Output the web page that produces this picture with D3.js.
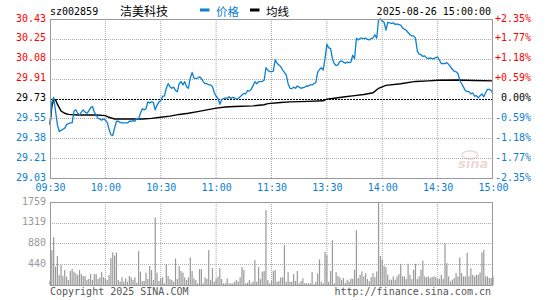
<!DOCTYPE html>
<html><head><meta charset="utf-8">
<script src="https://cdn.jsdelivr.net/npm/d3@7"></script>
<style>
body{margin:0;background:#fff;}
svg{display:block;}
</style></head><body>
<svg id="c" width="545" height="300"></svg>
<script>
const stockCode = "sz002859";
const stockName = "洁美科技";
const dateLabel = "2025-08-26 15:00:00";
const legendNames = ["价格", "均线"];
const prevClose = 29.73;
const pctValues = [2.35, 1.77, 1.18, 0.59, 0, -0.59, -1.18, -1.77, -2.35];
const priceTicks = ["30.43", "30.25", "30.08", "29.91", "29.73", "29.55", "29.38", "29.21", "29.03"];
const pctTicks = ["+2.35%", "+1.77%", "+1.18%", "+0.59%", "0.00%", "-0.59%", "-1.18%", "-1.77%", "-2.35%"];
const timeMinutes = [0, 30, 60, 90, 120, 150, 180, 210, 240];
const timeLabels = ["09:30", "10:00", "10:30", "11:00", "11:30", "13:30", "14:00", "14:30", "15:00"];
const volTicks = [440, 880, 1319, 1759];
const copyrightLeft = "Copyright 2025 SINA.COM";
const copyrightRight = "http://finance.sina.com.cn";

// per-minute price (09:30 .. 15:00)
const prices = [
29.50,29.70,29.74,29.62,29.50,29.44,29.45,29.46,29.47,29.50,
29.51,29.515,29.515,29.62,29.63,29.60,29.585,29.61,29.63,29.61,
29.60,29.62,29.65,29.66,29.61,29.585,29.556,29.55,29.54,29.55,
29.54,29.52,29.46,29.41,29.405,29.47,29.53,29.53,29.52,29.515,
29.515,29.515,29.515,29.53,29.53,29.535,29.53,29.556,29.55,29.60,
29.64,29.63,29.64,29.70,29.69,29.70,29.695,29.63,29.67,29.70,
29.71,29.75,29.75,29.82,29.86,29.834,29.82,29.83,29.80,29.79,
29.86,29.878,29.85,29.878,29.834,29.82,29.91,29.96,29.91,29.907,
29.91,29.92,29.907,29.878,29.86,29.86,29.85,29.85,29.834,29.78,
29.75,29.73,29.68,29.72,29.73,29.735,29.73,29.746,29.73,29.74,
29.735,29.725,29.73,29.746,29.76,29.775,29.77,29.80,29.795,29.81,
29.843,29.878,29.86,29.878,29.878,29.88,29.89,30.00,29.98,29.966,
29.966,29.97,30.07,30.04,30.025,30.01,29.98,29.96,29.935,29.86,
29.82,29.816,29.83,29.82,29.84,29.83,29.82,29.825,29.83,29.84,
29.84,29.85,29.85,29.86,29.87,29.96,29.985,30.00,29.98,30.08,
30.207,30.175,30.17,30.08,30.037,30.02,30.025,30.055,30.06,30.05,
30.04,30.05,30.045,30.05,30.11,30.08,30.26,30.245,30.26,30.26,
30.257,30.26,30.25,30.245,30.257,30.263,30.29,30.26,30.42,30.43,
30.41,30.40,30.33,30.40,30.395,30.39,30.395,30.38,30.385,30.38,
30.375,30.35,30.34,30.33,30.31,30.29,30.28,30.28,30.26,30.146,
30.12,30.115,30.10,30.105,30.087,30.08,30.087,30.08,30.08,30.09,
30.095,30.066,30.037,30.037,30.037,30.045,30.03,30.007,29.987,29.97,
29.965,29.95,29.89,29.86,29.83,29.80,29.79,29.79,29.77,29.78,
29.75,29.755,29.735,29.755,29.77,29.745,29.78,29.81,29.81,29.80,
29.77
];

// average price line, read at these minutes
const avgMinutes = [0,1,2,3,4,5,6,8,10,15,20,25,30,32,35,40,50,55,60,65,70,75,80,85,90,95,100,110,116,118,125,130,140,148,150,155,160,165,170,175,178,182,190,198,205,210,220,230,240];
const avgValues  = [29.50,29.66,29.72,29.72,29.68,29.65,29.62,29.60,29.59,29.585,29.585,29.585,29.58,29.565,29.55,29.55,29.55,29.555,29.565,29.575,29.59,29.60,29.615,29.63,29.645,29.655,29.66,29.665,29.675,29.685,29.695,29.70,29.705,29.71,29.725,29.735,29.745,29.755,29.765,29.78,29.82,29.845,29.86,29.88,29.885,29.89,29.892,29.888,29.885];

// per-minute volume
const volumes = [
84,739,1013,387,612,211,422,190,317,176,
105,295,338,281,246,211,317,232,190,190,
105,127,232,105,232,232,127,162,274,162,
141,105,211,570,690,626,690,105,70,162,
70,141,70,190,162,105,162,49,718,281,
84,84,260,127,401,317,105,1428,260,84,
141,162,35,436,190,127,105,70,563,127,
401,295,260,162,105,162,584,295,141,105,
35,338,338,35,162,127,739,105,359,70,
127,176,359,127,35,35,141,35,35,35,
70,105,70,162,380,317,35,49,105,35,
70,528,70,380,127,281,295,1583,105,35,
84,295,317,70,84,162,162,844,70,274,
70,70,232,84,295,35,84,141,35,35,
35,35,274,20,70,246,542,70,35,703,
633,70,295,950,35,274,190,162,112,147,
42,112,77,133,133,322,1162,147,217,287,
182,252,126,77,168,252,168,287,1759,616,
532,406,378,217,112,112,182,112,182,231,
448,182,182,126,448,217,126,322,448,126,
182,322,518,182,168,182,147,168,182,168,
126,133,217,126,882,462,182,77,112,147,
252,182,588,252,182,182,686,182,357,217,
182,217,217,266,686,742,182,182,147,147,
182
];

const BLUE = "#0b80d2", RED = "#ff0000", GRAY = "#999", MONO = "'DejaVu Sans Mono', monospace";
const svg = d3.select("#c");
const L = 50, R = 493, T = 19, B = 178, VT = 202, VB = 285;

const x = d3.scaleLinear().domain([0, 240]).range([L, R]);
const y = d3.scaleLinear().domain([prevClose * (1 - 0.0235), prevClose * (1 + 0.0235)]).range([B, T]);
const yv = d3.scaleLinear().domain([0, d3.max(volTicks)]).range([VB, VT]);
const pctPrice = p => prevClose * (1 + p / 100);

// grids
function vGrid(top, bottom) {
  svg.append("g").selectAll("line").data(timeMinutes.slice(1, -1)).join("line")
    .attr("x1", d => x(d)).attr("x2", d => x(d)).attr("y1", top).attr("y2", bottom)
    .attr("stroke", "#aaa").attr("stroke-dasharray", "1,1");
}
vGrid(T, B); vGrid(VT, VB);
svg.append("g").selectAll("line").data(pctValues.slice(1, -1)).join("line")
  .attr("x1", L).attr("x2", R).attr("y1", d => Math.round(y(pctPrice(d))) + 0.5).attr("y2", d => Math.round(y(pctPrice(d))) + 0.5)
  .attr("stroke", d => d === 0 ? "#000" : "#aaa").attr("stroke-dasharray", d => d === 0 ? "2,1" : "1,1");
svg.append("g").selectAll("line").data(volTicks.slice(0, -1)).join("line")
  .attr("x1", L).attr("x2", R).attr("y1", d => Math.round(yv(d)) + 0.5).attr("y2", d => Math.round(yv(d)) + 0.5)
  .attr("stroke", "#aaa").attr("stroke-dasharray", "1,1");

// watermark
const wm = svg.append("g").attr("opacity", 0.45);
wm.append("text").attr("x", 458).attr("y", 168).text("sina")
  .attr("font-family", "'DejaVu Sans', sans-serif").attr("font-style", "italic").attr("font-weight", "bold")
  .attr("font-size", 13).attr("fill", "#d9a9a9");
wm.append("ellipse").attr("cx", 470).attr("cy", 155).attr("rx", 8).attr("ry", 4).attr("fill", "none").attr("stroke", "#d9a9a9").attr("stroke-width", 1.5);

// volume bars
svg.append("g").selectAll("rect").data(volumes).join("rect")
  .attr("x", (d, i) => x(i) - 0.6).attr("width", 1.2)
  .attr("y", d => yv(d)).attr("height", d => VB - yv(d))
  .attr("fill", GRAY);

// avg line
svg.append("path").datum(avgMinutes.map((m, i) => [m, avgValues[i]]))
  .attr("d", d3.line().x(d => x(d[0])).y(d => y(d[1])))
  .attr("fill", "none").attr("stroke", "#000").attr("stroke-width", 1.4);

// price line
svg.append("path").datum(prices)
  .attr("d", d3.line().x((d, i) => x(i)).y(d => y(d)))
  .attr("fill", "none").attr("stroke", BLUE).attr("stroke-width", 1.3).attr("stroke-linejoin", "round");

// borders
svg.append("rect").attr("x", L + 0.5).attr("y", T + 0.5).attr("width", R - L - 1).attr("height", B - T)
  .attr("fill", "none").attr("stroke", GRAY);
svg.append("rect").attr("x", L + 0.5).attr("y", VT + 0.5).attr("width", R - L - 1).attr("height", VB - VT)
  .attr("fill", "none").attr("stroke", GRAY);

const colorOf = p => p > 0 ? RED : (p < 0 ? BLUE : "#000");
function styleAxis(g) {
  g.select(".domain").remove();
  g.selectAll("text").attr("font-family", MONO).attr("font-size", 10);
}
// left price axis
svg.append("g").attr("transform", `translate(${L},0)`)
  .call(d3.axisLeft(y).tickValues(pctValues.map(pctPrice)).tickFormat((d, i) => priceTicks[i]).tickSize(0).tickPadding(4))
  .call(styleAxis)
  .selectAll("text").attr("fill", (d, i) => colorOf(pctValues[i])).attr("dy", "0.2em");
// right pct axis
svg.append("g").attr("transform", `translate(${R + 38},0)`)
  .call(d3.axisLeft(y).tickValues(pctValues.map(pctPrice)).tickFormat((d, i) => pctTicks[i]).tickSize(0).tickPadding(0))
  .call(styleAxis)
  .selectAll("text").attr("fill", (d, i) => colorOf(pctValues[i])).attr("dy", "0.2em");
// time axis
svg.append("g").attr("transform", `translate(0,${B})`)
  .call(d3.axisBottom(x).tickValues(timeMinutes).tickFormat((d, i) => timeLabels[i]).tickSize(0).tickPadding(6))
  .call(styleAxis)
  .selectAll("text").attr("fill", BLUE);
// volume axis
svg.append("g").attr("transform", `translate(${L},0)`)
  .call(d3.axisLeft(yv).tickValues(volTicks).tickFormat(d3.format("d")).tickSize(0).tickPadding(4))
  .call(styleAxis)
  .selectAll("text").attr("fill", GRAY).attr("dy", "0.2em");

// header
svg.append("text").attr("x", 50).attr("y", 15).text(stockCode).attr("font-family", MONO).attr("font-size", 10).attr("fill", "#000");
svg.append("text").attr("x", 120).attr("y", 16).text(stockName).attr("font-family", "'Noto Sans CJK SC', sans-serif").attr("font-size", 12).attr("fill", "#000");
svg.append("rect").attr("x", 200).attr("y", 8.5).attr("width", 9.5).attr("height", 3).attr("fill", BLUE);
svg.append("text").attr("x", 216).attr("y", 16).text(legendNames[0]).attr("font-family", "'Noto Sans CJK SC', sans-serif").attr("font-size", 11.5).attr("fill", BLUE);
svg.append("rect").attr("x", 250).attr("y", 8.5).attr("width", 9.5).attr("height", 3).attr("fill", "#000");
svg.append("text").attr("x", 266).attr("y", 16).text(legendNames[1]).attr("font-family", "'Noto Sans CJK SC', sans-serif").attr("font-size", 11.5).attr("fill", "#000");
svg.append("text").attr("x", 491).attr("y", 15).attr("text-anchor", "end").text(dateLabel).attr("font-family", MONO).attr("font-size", 10).attr("fill", "#000");

// footer
svg.append("text").attr("x", 50).attr("y", 295).text(copyrightLeft).attr("font-family", MONO).attr("font-size", 10).attr("fill", "#555");
svg.append("text").attr("x", 491).attr("y", 295).attr("text-anchor", "end").text(copyrightRight).attr("font-family", MONO).attr("font-size", 10).attr("fill", "#555");
</script>
</body></html>
